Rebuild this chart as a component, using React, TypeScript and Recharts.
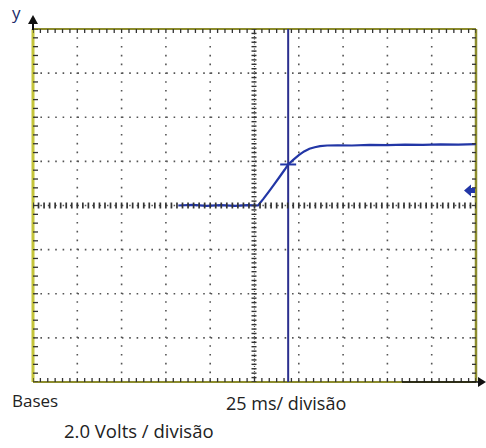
import { ComposedChart, Line, Scatter, ReferenceLine, XAxis, YAxis } from "recharts";

// time in ms (25 ms/div), voltage in V (2.0 V/div)
const xDivs = [0, 25, 50, 75, 100, 125, 150, 175, 200, 225, 250];
const yDivs = [-8, -6, -4, -2, 0, 2, 4, 6, 8];

const traceT = [82, 90, 98, 106, 114, 121, 127, 130, 133, 136, 139, 142, 144, 147, 150, 153, 156, 159, 162, 166, 172, 180, 190, 200, 210, 220, 230, 240, 250];
const traceV = [0, 0.03, -0.02, 0.02, -0.02, 0.02, 0, 0.3, 0.62, 0.95, 1.28, 1.62, 1.86, 2.08, 2.28, 2.45, 2.57, 2.64, 2.69, 2.72, 2.73, 2.72, 2.75, 2.74, 2.76, 2.75, 2.77, 2.76, 2.78];

const cursorT = 144;
const markerV = 1.86;
const triggerV = 0.68;

const labels = { y: "y", base: "Bases", time: "25 ms/ divisão", volts: "2.0 Volts / divisão" };

const W = 486;
const H = 448;
const M = { top: 29, right: 10, bottom: 66, left: 33 };

const trace = traceT.map((t, i) => ({ t, v: traceV[i] }));

function steps(from: number, to: number, step: number) {
  const out: number[] = [];
  for (let x = from; x <= to + 1e-6; x += step) out.push(+x.toFixed(4));
  return out;
}

const topTicks = steps(0, 250, 25 / 6).map((t) => ({ t, v: 8 }));
const bottomTicks = steps(0, 250, 25 / 6).map((t) => ({ t, v: -8 }));
const leftTicks = steps(-8, 8, 0.4).map((v) => ({ t: 0, v }));
const rightTicks = steps(-8, 8, 0.4).map((v) => ({ t: 250, v }));
const centerHTicks = steps(0, 250, 25 / 8).map((t) => ({ t, v: 0 }));
const centerVTicks = steps(-8, 8, 0.2).map((v) => ({ t: 125, v }));

const ink = "#333";
const grid = "#555";
const olive = "#8c8c2e";
const blue = "#2236a6";
const cursorBlue = "#2b2f8f";

const vTick = (y0: number, y1: number, w = 1.3) => (p: any) => (
  <line x1={p.cx} x2={p.cx} y1={p.cy + y0} y2={p.cy + y1} stroke={ink} strokeWidth={w} />
);
const hTick = (x0: number, x1: number, w = 1.3) => (p: any) => (
  <line y1={p.cy} y2={p.cy} x1={p.cx + x0} x2={p.cx + x1} stroke={ink} strokeWidth={w} />
);

export default function App() {
  return (
    <div style={{ position: "absolute", left: 0, top: 0, width: W, height: H }}>
      <ComposedChart width={W} height={H} margin={M}>
        <XAxis dataKey="t" type="number" domain={[0, 250]} hide allowDataOverflow />
        <YAxis dataKey="v" type="number" domain={[-8, 8]} hide allowDataOverflow />

        {xDivs.slice(1, -1).filter((t) => t !== 125).map((t) => (
          <ReferenceLine key={"gx" + t} x={t} stroke={grid} strokeWidth={1.6} strokeDasharray="1.6 7.2" />
        ))}
        {yDivs.slice(1, -1).filter((v) => v !== 0).map((v) => (
          <ReferenceLine key={"gy" + v} y={v} stroke={grid} strokeWidth={1.6} strokeDasharray="1.6 5.8" />
        ))}
        <ReferenceLine x={125} stroke={grid} strokeWidth={1.2} strokeDasharray="1 1.5" />
        <ReferenceLine y={0} stroke={grid} strokeWidth={1.5} strokeDasharray="1.5 5.9" />

        <Scatter data={centerHTicks} dataKey="v" isAnimationActive={false} shape={vTick(-3, 3, 1.7)} />
        <Scatter data={centerVTicks} dataKey="v" isAnimationActive={false} shape={hTick(-3, 2, 1.4)} />
        <Scatter data={topTicks} dataKey="v" isAnimationActive={false} shape={vTick(0, 4)} />
        <Scatter data={bottomTicks} dataKey="v" isAnimationActive={false} shape={vTick(-4, 0)} />
        <Scatter data={leftTicks} dataKey="v" isAnimationActive={false} shape={hTick(0, 5)} />
        <Scatter data={rightTicks} dataKey="v" isAnimationActive={false} shape={hTick(-4, 0)} />

        <ReferenceLine y={8} stroke={olive} strokeWidth={2} />
        <ReferenceLine y={-8} stroke={olive} strokeWidth={2} />
        <ReferenceLine x={250} stroke={olive} strokeWidth={2.5} />
        <ReferenceLine x={0} stroke="#c4c43a" strokeWidth={3} />

        <Line data={trace} dataKey="v" stroke={blue} strokeWidth={2.2} dot={false} isAnimationActive={false} />
        <ReferenceLine x={cursorT} stroke={cursorBlue} strokeWidth={2} />
        <Scatter
          data={[{ t: cursorT, v: markerV }]}
          dataKey="v"
          isAnimationActive={false}
          shape={(p: any) => <line x1={p.cx - 8} x2={p.cx + 8} y1={p.cy} y2={p.cy} stroke={blue} strokeWidth={2} />}
        />
        <Scatter
          data={[{ t: 250, v: triggerV }]}
          dataKey="v"
          isAnimationActive={false}
          shape={(p: any) => (
            <path d={`M${p.cx - 12},${p.cy} L${p.cx - 5},${p.cy - 6} L${p.cx - 5},${p.cy - 2.5} L${p.cx - 1},${p.cy - 2.5} L${p.cx - 1},${p.cy + 2.5} L${p.cx - 5},${p.cy + 2.5} L${p.cx - 5},${p.cy + 6} Z`} fill={blue} />
          )}
        />
      </ComposedChart>

      <svg width={W} height={H} style={{ position: "absolute", left: 0, top: 0, pointerEvents: "none" }}>
        <line x1={33} x2={33} y1={20} y2={30} stroke="#111" strokeWidth={2} />
        <path d="M33,15 L28,24 L38,24 Z" fill="#111" />
        <line x1={402} x2={480} y1={382} y2={382} stroke="#111" strokeWidth={1.5} />
        <path d="M486,382 L478,377 L478,387 Z" fill="#111" />
        <g fontFamily="'Open Sans', sans-serif" fill="#222">
          <text x={12} y={19} fill="#1c2a6a" fontSize={17}>{labels.y}</text>
          <text x={12} y={407} fontSize={17}>{labels.base}</text>
          <text x={226} y={410} fontSize={18}>{labels.time}</text>
          <text x={64} y={438} fontSize={18.5}>{labels.volts}</text>
        </g>
      </svg>
    </div>
  );
}
